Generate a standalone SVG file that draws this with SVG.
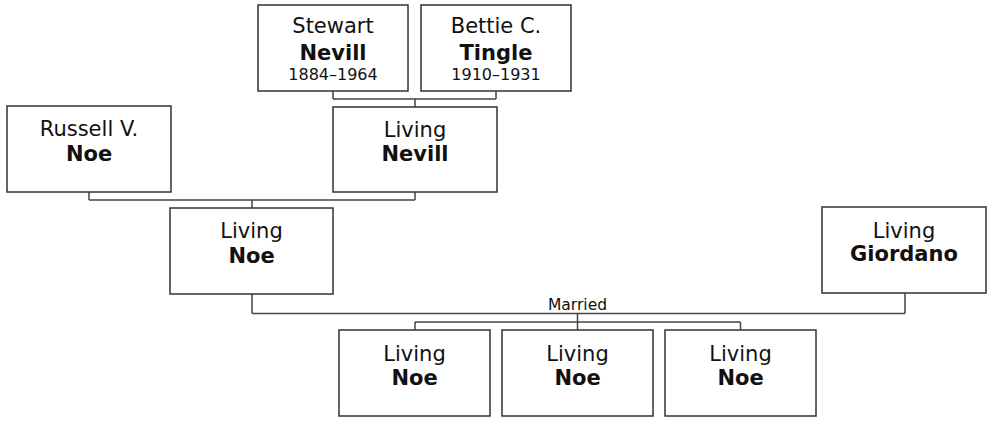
<svg xmlns="http://www.w3.org/2000/svg" width="988" height="424" viewBox="0 0 988 424">
<style>
.box{fill:#fff;stroke:#333;stroke-width:1.5}
.ln{fill:none;stroke:#444;stroke-width:1.5}
text{font-family:"DejaVu Sans","Liberation Sans",sans-serif;text-anchor:middle;fill:#111}
.n{font-size:21px}
.b{font-size:21px;font-weight:bold}
.d{font-size:16px}
.m{font-size:15.5px}
</style>
<rect width="988" height="424" fill="#fff"/>
<g id="connectors">
<path class="ln" d="M333 91V99M496 91V99M333 99H496M415 99V107"/>
<path class="ln" d="M89 192V200M415 192V200M89 200H415M252 200V208"/>
<path class="ln" d="M252 294V313.5M905 293V313.5M252 313.5H905M577.5 313.5V322"/>
<path class="ln" d="M415 322H740.5M415 322V330M577.5 322V330M740.5 322V330"/>
<text class="m" x="577.5" y="310">Married</text>
</g>
<g id="stewart">
<rect class="box" x="258" y="5" width="150" height="86"/>
<text class="n" x="333" y="33">Stewart</text>
<text class="b" x="333" y="60">Nevill</text>
<text class="d" x="333" y="80">1884–1964</text>
</g>
<g id="bettie">
<rect class="box" x="421" y="5" width="150" height="86"/>
<text class="n" x="496" y="33">Bettie C.</text>
<text class="b" x="496" y="60">Tingle</text>
<text class="d" x="496" y="80">1910–1931</text>
</g>
<g id="russell">
<rect class="box" x="7" y="106" width="164" height="86"/>
<text class="n" x="89" y="136">Russell V.</text>
<text class="b" x="89" y="161">Noe</text>
</g>
<g id="living-nevill">
<rect class="box" x="333" y="107" width="164" height="85"/>
<text class="n" x="415" y="137">Living</text>
<text class="b" x="415" y="161">Nevill</text>
</g>
<g id="living-noe">
<rect class="box" x="170" y="208" width="163" height="86"/>
<text class="n" x="251.5" y="238">Living</text>
<text class="b" x="251.5" y="263">Noe</text>
</g>
<g id="living-giordano">
<rect class="box" x="822" y="207" width="164" height="86"/>
<text class="n" x="904" y="238">Living</text>
<text class="b" x="904" y="261">Giordano</text>
</g>
<g id="child1">
<rect class="box" x="339" y="330" width="151" height="86"/>
<text class="n" x="414.5" y="361">Living</text>
<text class="b" x="414.5" y="385">Noe</text>
</g>
<g id="child2">
<rect class="box" x="502" y="330" width="151" height="86"/>
<text class="n" x="577.5" y="361">Living</text>
<text class="b" x="577.5" y="385">Noe</text>
</g>
<g id="child3">
<rect class="box" x="665" y="330" width="151" height="86"/>
<text class="n" x="740.5" y="361">Living</text>
<text class="b" x="740.5" y="385">Noe</text>
</g>
</svg>
